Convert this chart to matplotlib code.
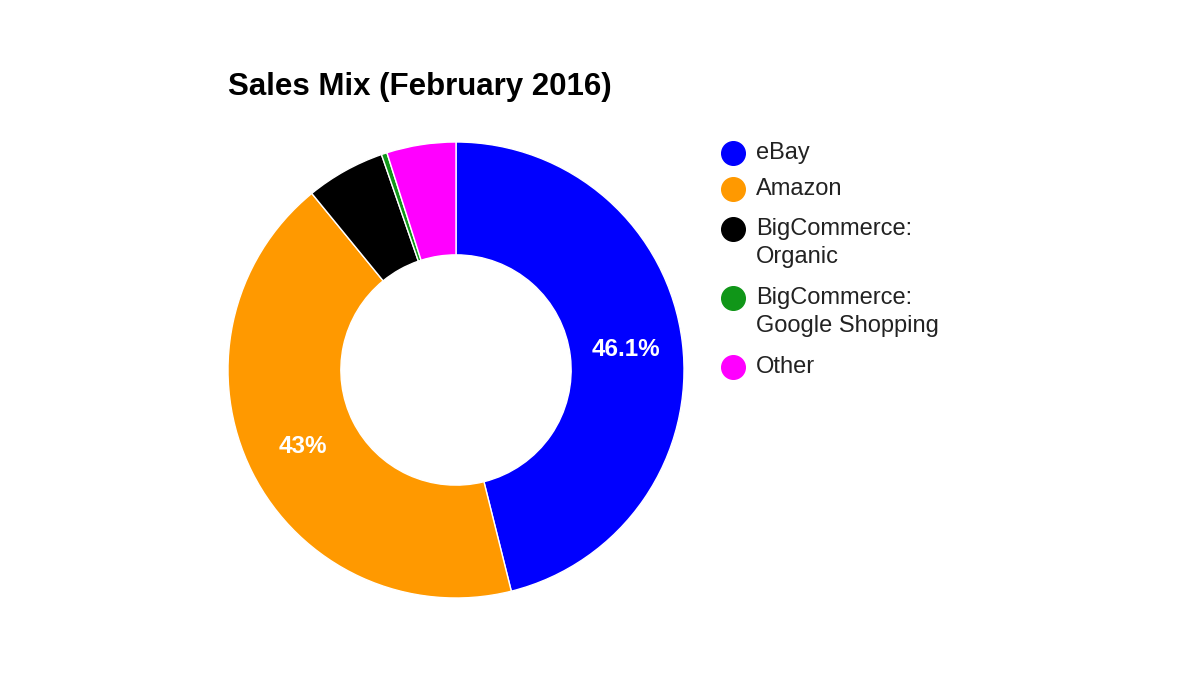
import matplotlib
matplotlib.use("Agg")
import matplotlib.pyplot as plt

plt.rcParams['font.family'] = ['Liberation Sans', 'DejaVu Sans']

channels = ['eBay', 'Amazon', 'BigCommerce:\nOrganic', 'BigCommerce:\nGoogle Shopping', 'Other']
shares = [46.1, 43.0, 5.6, 0.4, 4.9]
colors = ['#0000ff', '#ff9900', '#000000', '#109618', '#ff00ff']

W, H = 1192, 678
fig = plt.figure(figsize=(W / 100, H / 100), dpi=100)

# donut centred at (456, 370) px, radius 228 px
cx, cy, r = 456, 370, 228
ax = fig.add_axes([(cx - r) / W, (H - cy - r) / H, 2 * r / W, 2 * r / H])

def pct(v):
    return f"{v:.1f}%".replace('.0%', '%') if v > 10 else ''

wedges, _, autotexts = ax.pie(shares, colors=colors, startangle=90, counterclock=False,
                              autopct=pct, pctdistance=0.75, radius=1,
                              wedgeprops=dict(width=0.495, edgecolor='white', linewidth=1))
for t in autotexts:
    t.set_color('white')
    t.set_fontsize(17.5)
    t.set_fontweight('bold')
ax.set_xlim(-1, 1)
ax.set_ylim(-1, 1)
ax.set_aspect('equal')
ax.axis('off')

fig.text(228 / W, 1 - 87 / H, 'Sales Mix (February 2016)', fontsize=22.5, fontweight='bold',
         va='center', ha='left')

# legend
rows = [153, 189, 229, 298, 367]
for name, col, y in zip(channels, colors, rows):
    fig.add_artist(plt.Line2D([733 / W], [1 - y / H], marker='o', markersize=17,
                              color=col, linestyle='none', transform=fig.transFigure))
    fig.text(756 / W, 1 - (y - 11) / H, name, fontsize=17, va='top', ha='left',
             color='#222222', linespacing=1.35)

fig.savefig('out.png', dpi=100)
